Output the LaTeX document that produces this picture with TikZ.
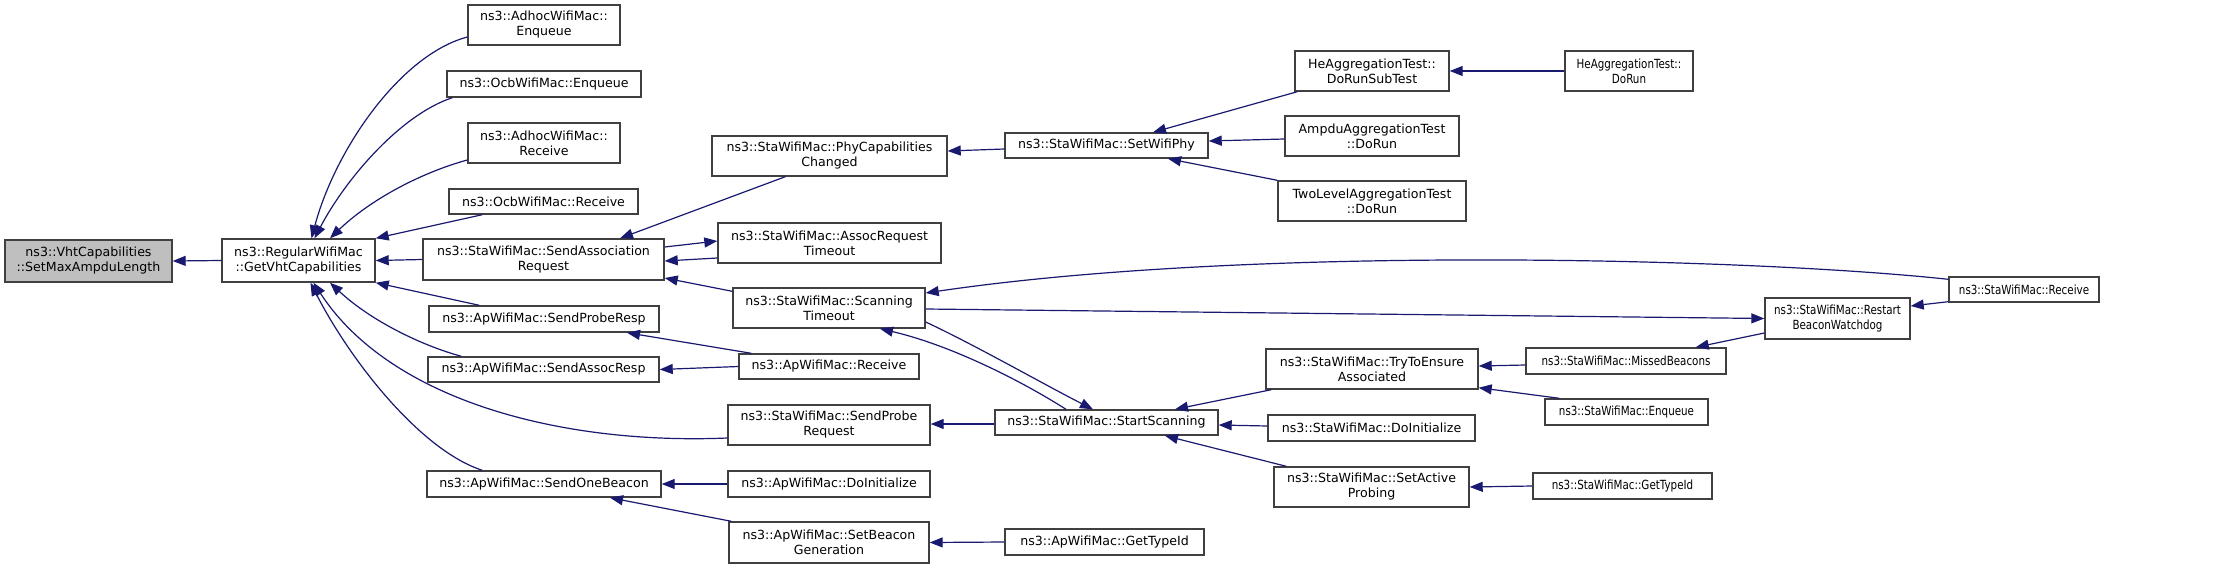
\documentclass[tikz,border=0pt]{standalone}
\usepackage{fontspec}
\setmainfont{DejaVu Sans}
\newfontfamily\narrowfont[FakeStretch=0.82]{DejaVu Sans}
\usetikzlibrary{arrows.meta,calc}
\definecolor{edgecol}{HTML}{191970}
\definecolor{boxcol}{HTML}{404040}
\definecolor{rootfill}{HTML}{BFBFBF}
\tikzset{
  box/.style={rectangle, draw=boxcol, line width=1.4pt, fill=white, inner sep=0pt, align=center,
    font=\fontsize{12.6}{15}\selectfont},
  narrowbox/.style={font=\narrowfont\fontsize{12.6}{15}\selectfont},
  rootbox/.style={fill=rootfill},
  edge/.style={draw=edgecol, line width=1.2pt, -{Triangle[length=13pt,width=10pt]}},
}
\newcommand\mybox[7][]{\node[box,#1,minimum width={#5-#3},minimum height={#6-#4}] (#2) at ({(#3+#5)/2},{(#4+#6)/2}) {#7};}
\begin{document}
\begin{tikzpicture}[x=1pt,y=-1pt]
\fill[white] (0,0) rectangle (2224,568);
\useasboundingbox (0,0) rectangle (2224,568);
% nodes
\mybox[rootbox]{root}{5}{240}{172}{282}{ns3::VhtCapabilities\\::SetMaxAmpduLength}
\mybox{gvc}{222}{239}{375}{282}{ns3::RegularWifiMac\\::GetVhtCapabilities}
\mybox{adhEnq}{468}{5}{620}{45}{ns3::AdhocWifiMac::\\Enqueue}
\mybox{ocbEnq}{447}{71}{641}{97}{ns3::OcbWifiMac::Enqueue}
\mybox{adhRcv}{468}{123}{620}{163}{ns3::AdhocWifiMac::\\Receive}
\mybox{ocbRcv}{449}{189}{638}{214}{ns3::OcbWifiMac::Receive}
\mybox{sAR}{423}{239}{664}{280}{ns3::StaWifiMac::SendAssociation\\Request}
\mybox{sPR}{429}{306}{659}{332}{ns3::ApWifiMac::SendProbeResp}
\mybox{sAResp}{428}{357}{659}{382}{ns3::ApWifiMac::SendAssocResp}
\mybox{sOB}{427}{471}{661}{497}{ns3::ApWifiMac::SendOneBeacon}
\mybox{phy}{712}{136}{947}{176}{ns3::StaWifiMac::PhyCapabilities\\Changed}
\mybox{art}{718}{223}{941}{263}{ns3::StaWifiMac::AssocRequest\\Timeout}
\mybox{sto}{733}{288}{925}{328}{ns3::StaWifiMac::Scanning\\Timeout}
\mybox{apRcv}{739}{354}{919}{379}{ns3::ApWifiMac::Receive}
\mybox{sPReq}{728}{405}{930}{445}{ns3::StaWifiMac::SendProbe\\Request}
\mybox{apInit}{728}{471}{930}{497}{ns3::ApWifiMac::DoInitialize}
\mybox{sBG}{729}{522}{929}{563}{ns3::ApWifiMac::SetBeacon\\Generation}
\mybox{swp}{1005}{133}{1208}{158}{ns3::StaWifiMac::SetWifiPhy}
\mybox{heSub}{1295}{51}{1449}{91}{HeAggregationTest::\\DoRunSubTest}
\mybox{ampdu}{1285}{116}{1459}{156}{AmpduAggregationTest\\::DoRun}
\mybox{twoL}{1278}{181}{1466}{221}{TwoLevelAggregationTest\\::DoRun}
\mybox[narrowbox]{heRun}{1565}{51}{1693}{91}{HeAggregationTest::\\DoRun}
\mybox{sS}{995}{410}{1218}{435}{ns3::StaWifiMac::StartScanning}
\mybox{tte}{1266}{349}{1478}{389}{ns3::StaWifiMac::TryToEnsure\\Associated}
\mybox{staInit}{1268}{415}{1475}{441}{ns3::StaWifiMac::DoInitialize}
\mybox{sAP}{1274}{467}{1469}{507}{ns3::StaWifiMac::SetActive\\Probing}
\mybox{apGT}{1005}{529}{1204}{555}{ns3::ApWifiMac::GetTypeId}
\mybox[narrowbox]{rbw}{1765}{298}{1910}{339}{ns3::StaWifiMac::Restart\\BeaconWatchdog}
\mybox[narrowbox]{staRcv}{1949}{277}{2099}{302}{ns3::StaWifiMac::Receive}
\mybox[narrowbox]{mb}{1526}{348}{1726}{374}{ns3::StaWifiMac::MissedBeacons}
\mybox[narrowbox]{staEnq}{1545}{399}{1708}{425}{ns3::StaWifiMac::Enqueue}
\mybox[narrowbox]{staGT}{1533}{473}{1712}{499}{ns3::StaWifiMac::GetTypeId}
% edges
\draw[edge] (gvc.west) -- (root.east);
\draw[edge] ($(adhEnq.west)+(0,12)$) .. controls (400,55) and (335,150) .. ($(gvc.north)+(13,0)$);
\draw[edge] ($(ocbEnq.south west)+(6,0)$) .. controls (400,115) and (345,180) .. ($(gvc.north)+(16,0)$);
\draw[edge] ($(adhRcv.west)+(0,17)$) .. controls (420,173) and (370,200) .. ($(gvc.north)+(31.5,0)$);
\draw[edge] ($(ocbRcv.south west)+(34,0)$) -- (gvc.north east);
\draw[edge] (sAR.west) -- (gvc.east);
\draw[edge] ($(sPR.north west)+(51,0)$) -- (gvc.south east);
\draw[edge] ($(sAResp.north west)+(34,0)$) .. controls (420,345) and (370,320) .. ($(gvc.south)+(31.5,0)$);
\draw[edge] ($(sPReq.west)+(0,13)$) .. controls (560,445) and (390,400) .. ($(gvc.south)+(15,0)$);
\draw[edge] ($(sOB.north west)+(56,0)$) .. controls (420,450) and (350,360) .. ($(gvc.south)+(12,0)$);
\draw[edge] ($(phy.south west)+(74,0)$) -- ($(sAR.north)+(76.5,0)$);
\draw[edge] ($(sAR.east)+(0,-12.5)$) -- ($(art.west)+(0,-2)$);
\draw[edge] ($(art.west)+(0,15)$) -- ($(sAR.east)+(0,1.5)$);
\draw[edge] ($(sto.north west)+(0,4)$) -- ($(sAR.east)+(0,18.5)$);
\draw[edge] ($(swp.west)+(0,3.5)$) -- ($(phy.east)+(0,-5)$);
\draw[edge] ($(heSub.south west)+(3,0)$) -- ($(swp.north)+(46.5,0)$);
\draw[edge] ($(ampdu.west)+(0,3)$) -- ($(swp.east)+(0,-4.5)$);
\draw[edge] (twoL.north west) -- ($(swp.south)+(61.5,0)$);
\draw[edge] (heRun.west) -- (heSub.east);
\draw[edge] ($(staRcv.north west)+(0,3)$) .. controls (1750,258) and (1250,245) .. ($(sto.east)+(0,-15)$);
\draw[edge] ($(sto.east)+(0,1)$) -- (rbw.west);
\draw[edge] ($(staRcv.south west)+(0,-1)$) -- ($(rbw.east)+(0,-12.5)$);
\draw[edge] ($(rbw.west)+(0,14.5)$) -- ($(mb.north east)+(-31,0)$);
\draw[edge] ($(mb.west)+(0,4)$) -- ($(tte.east)+(0,-3)$);
\draw[edge] ($(staEnq.north west)+(15,0)$) -- ($(tte.south east)+(0,-2)$);
\draw[edge] ($(sto.east)+(0,14)$) .. controls (975,345) and (1045,385) .. ($(sS.north)+(-13.5,0)$);
\draw[edge] ($(sS.north)+(-40.5,0)$) .. controls (1020,380) and (950,345) .. ($(sto.south)+(51,0)$);
\draw[edge] ($(sS.west)+(0,1.5)$) -- ($(sPReq.east)+(0,-1)$);
\draw[edge] ($(tte.south west)+(6,0)$) -- ($(sS.north)+(68.5,0)$);
\draw[edge] ($(staInit.west)+(0,-2)$) -- ($(sS.east)+(0,2.5)$);
\draw[edge] ($(sAP.north west)+(13,0)$) -- ($(sS.south)+(58.5,0)$);
\draw[edge] (staGT.west) -- (sAP.east);
\draw[edge] ($(apRcv.north west)+(13,0)$) -- ($(sPR.south)+(83,0)$);
\draw[edge] (apRcv.west) -- (sAResp.east);
\draw[edge] (apInit.west) -- (sOB.east);
\draw[edge] ($(sBG.north west)+(3,0)$) -- ($(sOB.south)+(66,0)$);
\draw[edge] (apGT.west) -- (sBG.east);
\end{tikzpicture}
\end{document}
